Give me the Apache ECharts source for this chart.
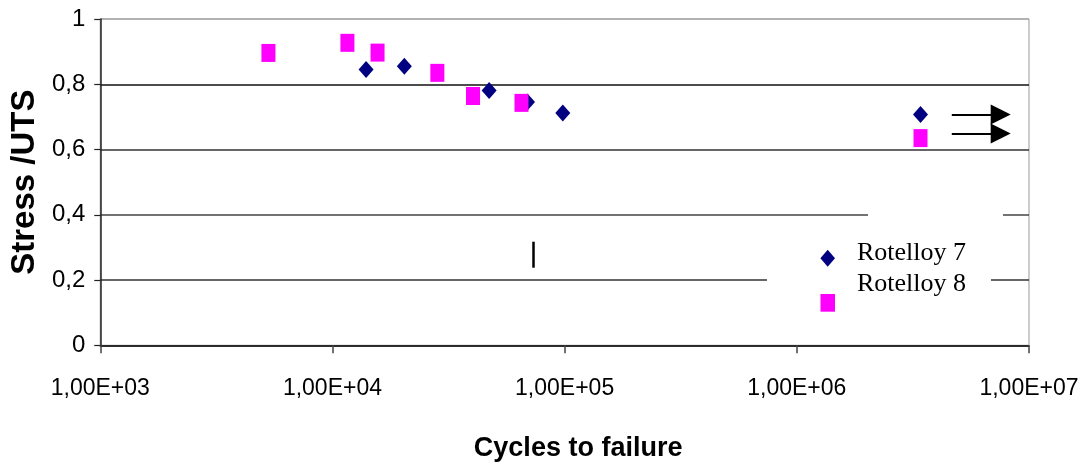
<!DOCTYPE html>
<html><head><meta charset="utf-8">
<script src="https://cdn.jsdelivr.net/npm/echarts@6/dist/echarts.min.js"></script>
<style>html,body{margin:0;padding:0;background:#fff}#c{width:1085px;height:472px}</style>
</head><body><div id="c"></div>
<script>
// Rotelloy 7 (diamonds): [cycles, stress/UTS]
var rot7Cycles = [13960, 20400, 47300, 69200, 98200, 3410000];
var rot7Stress = [0.845, 0.855, 0.781, 0.746, 0.712, 0.707];
// Rotelloy 8 (squares)
var rot8Cycles = [5300, 11600, 15640, 28300, 40300, 65200, 3410000];
var rot8Stress = [0.896, 0.927, 0.897, 0.835, 0.764, 0.743, 0.635];
// run-out arrows: [startCycles, endCycles, stress]
var arrowStart = [4650000, 4650000];
var arrowEnd = [7550000, 7550000];
var arrowStress = [0.707, 0.649];
var seriesNames = ['Rotelloy 7', 'Rotelloy 8'];
var xTitle = 'Cycles to failure';
var yTitle = 'Stress /UTS';

function zip(a, b) { return a.map(function (v, i) { return [v, b[i]]; }); }

var chart = echarts.init(document.getElementById('c'), null, {renderer: 'canvas'});
var sans = '"Liberation Sans", Arial, sans-serif';
chart.setOption({
  animation: false,
  backgroundColor: '#fff',
  grid: {left: 98.7, right: 56, top: 19, bottom: 126.7, show: true, borderColor: '#999', borderWidth: 1, backgroundColor: 'transparent'},
  xAxis: {
    type: 'log', logBase: 10, min: 1000, max: 10000000,
    name: xTitle, nameLocation: 'middle', nameGap: 90,
    nameTextStyle: {fontFamily: sans, fontWeight: 'bold', fontSize: 27, color: '#000', padding: [0, 0, 0, 27]},
    axisLine: {show: true, onZero: false, lineStyle: {color: '#222', width: 1.5}},
    axisTick: {show: true, inside: false, length: 8, lineStyle: {color: '#444', width: 1.5}},
    axisLabel: {margin: 32, fontFamily: sans, fontSize: 23, color: '#000',
      formatter: function (v) { var e = Math.round(Math.log10(v)); return '1,00E+' + (e < 10 ? '0' + e : e); }},
    splitLine: {show: false},
    minorTick: {show: false}
  },
  yAxis: {
    type: 'value', min: 0, max: 1, interval: 0.2,
    name: yTitle, nameLocation: 'middle', nameGap: 58, nameRotate: 90,
    nameTextStyle: {fontFamily: sans, fontWeight: 'bold', fontSize: 33, color: '#000'},
    axisLine: {show: true, lineStyle: {color: '#222', width: 1.5}},
    axisTick: {show: true, inside: false, length: 6, lineStyle: {color: '#222', width: 1.2}},
    axisLabel: {margin: 15, fontFamily: sans, fontSize: 24, color: '#000',
      formatter: function (v) { return String(Math.round(v * 10) / 10).replace('.', ','); }},
    splitLine: {show: true, lineStyle: {color: ['#222', '#333', '#444', '#333', '#111', '#aaa'], width: 1.5}}
  },
  series: [
    {
      name: seriesNames[0], type: 'scatter', symbol: 'diamond', symbolSize: [15, 17],
      itemStyle: {color: '#000080', opacity: 1}, z: 3,
      data: zip(rot7Cycles, rot7Stress),
      markLine: {
        silent: true, symbol: ['none', 'triangle'], symbolSize: [20, 20],
        lineStyle: {color: '#000', width: 2, type: 'solid', opacity: 1},
        itemStyle: {color: '#000'},
        label: {show: false},
        data: arrowStress.map(function (s, i) { return [{coord: [arrowStart[i], s]}, {coord: [arrowEnd[i], s]}]; })
      }
    },
    {
      name: seriesNames[1], type: 'scatter', symbol: 'rect', symbolSize: [14, 18],
      itemStyle: {color: '#FF00FF', opacity: 1}, z: 4,
      data: zip(rot8Cycles, rot8Stress)
    }
  ],
  graphic: [
    {type: 'rect', shape: {x: 868, y: 208, width: 135, height: 14}, style: {fill: '#fff'}, z: 50},
    {type: 'rect', shape: {x: 767, y: 273, width: 224, height: 14}, style: {fill: '#fff'}, z: 50},
    {type: 'line', shape: {x1: 533.5, y1: 241.7, x2: 533.5, y2: 267.7}, style: {stroke: '#000', lineWidth: 2.5}, z: 51},
    {type: 'polygon', shape: {points: [[827.7, 249.8], [835, 258.3], [827.7, 266.8], [820.4, 258.3]]}, style: {fill: '#000080'}, z: 52},
    {type: 'rect', shape: {x: 820.5, y: 294, width: 14.5, height: 17.7}, style: {fill: '#FF00FF'}, z: 52},
    {type: 'text', x: 857, y: 253, style: {text: seriesNames[0], font: '26px "Liberation Serif", "Times New Roman", serif', fill: '#000', verticalAlign: 'middle', align: 'left'}, z: 52},
    {type: 'text', x: 857, y: 284, style: {text: seriesNames[1], font: '26px "Liberation Serif", "Times New Roman", serif', fill: '#000', verticalAlign: 'middle', align: 'left'}, z: 52}
  ]
});
</script></body></html>
